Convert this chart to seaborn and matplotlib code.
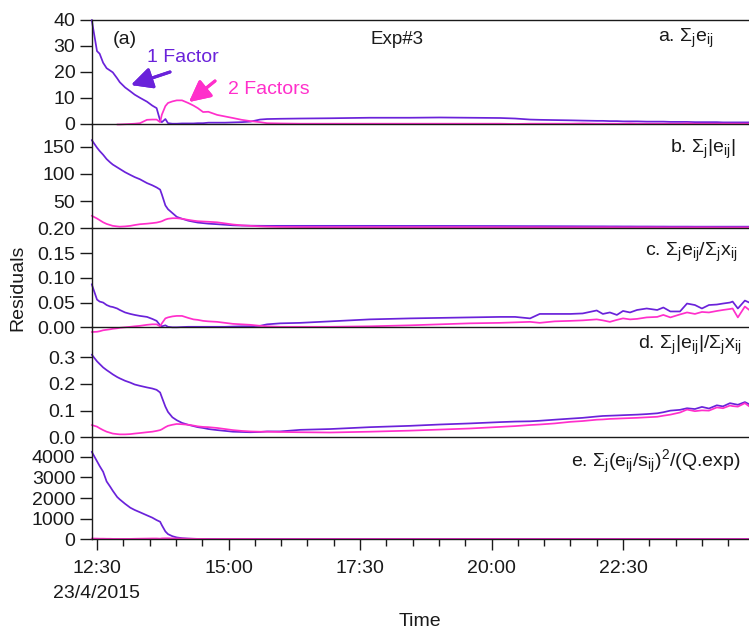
import numpy as np
import pandas as pd
import matplotlib
matplotlib.use("Agg")
import matplotlib.pyplot as plt
import matplotlib.dates as mdates
from matplotlib.ticker import FixedLocator, FormatStrFormatter
import seaborn as sns

# ---------------------------------------------------------------- data
start = pd.Timestamp("2015-04-23 12:30")

# sample times, minutes after 12:30
minutes = [-6, 0, 3, 7, 11, 15, 18, 23, 26, 32,
           38, 43, 49, 57, 63, 68, 72, 74, 78, 81,
           86, 91, 97, 104, 110, 115, 121, 127, 137, 146,
           155, 165, 175, 186, 194, 209, 232, 266, 311, 357,
           391, 425, 460, 477, 494, 505, 522, 540, 554, 570,
           577, 585, 593, 600, 608, 616, 627, 639, 646, 654,
           665, 673, 682, 690, 698, 707, 714, 722, 725, 731,
           739, 744]

series_names = ["1 Factor", "2 Factors"]

# a. sum_j e_ij
sum_e_1f = [40, 28, 27, 23.5, 21.4, 20.5, 19.8, 17.5, 16, 14,
            12.5, 11.2, 10, 8.5, 7, 6, 1.2, 0.6, 1.8, 0.2,
            0, 0, 0.1, 0.1, 0.1, 0.2, 0.2, 0.4, 0.4, 0.4,
            0.5, 0.6, 0.8, 1.6, 1.8, 1.9, 2.0, 2.1, 2.3, 2.3,
            2.4, 2.3, 2.2, 2.0, 1.6, 1.5, 1.4, 1.3, 1.2, 1.1,
            1.1, 1.0, 1.0, 0.9, 0.9, 0.9, 0.8, 0.8, 0.8, 0.7,
            0.7, 0.7, 0.6, 0.6, 0.6, 0.6, 0.5, 0.5, 0.5, 0.5,
            0.5, 0.5]
sum_e_2f = [np.nan, np.nan, np.nan, np.nan, np.nan, np.nan, np.nan, -0.3, -0.3, -0.2,
            -0.1, 0, 0.2, 1.5, 1.6, 1.6, 0.6, 3.5, 6.8, 8.0,
            8.6, 9.0, 9.0, 8.0, 7.0, 6.0, 4.5, 4.6, 3.4, 2.8,
            2.2, 1.5, 1.0, 0.6, 0.2, 0.1, 0.0, 0.0, 0.0, 0.0,
            0.0, 0.0, 0.0, -0.1, 0.0, 0.0, 0.0, 0.0, 0.1, 0.0,
            0.0, 0.0, 0.0, 0.0, 0.1, 0.0, 0.0, 0.0, 0.0, 0.0,
            0.0, 0.1, 0.0, 0.0, 0.0, 0.0, 0.0, 0.0, 0.0, 0.0,
            0.0, 0.0]

# b. sum_j |e_ij|
sum_abs_1f = [162, 148, 142, 135, 127, 121, 117, 112, 109, 103,
              98, 94, 90, 83, 79, 75, 71, 62, 42, 35,
              28, 21, 17.5, 14, 12, 10.5, 9.5, 8.5, 7.5, 6.5,
              5.5, 5.0, 4.8, 4.6, 4.5, 4.5, 4.5, 4.5, 4.5, 4.4,
              4.4, 4.3, 4.2, 4.1, 4.0, 4.0, 3.9, 3.8, 3.7, 3.6,
              3.6, 3.5, 3.5, 3.4, 3.4, 3.3, 3.3, 3.2, 3.2, 3.1,
              3.1, 3.1, 3.0, 3.0, 3.0, 3.0, 3.0, 3.0, 3.0, 3.0,
              3.0, 3.0]
sum_abs_2f = [23, 18, 15, 11, 8, 6, 4.5, 3.5, 3, 3.5,
              4.5, 6, 7.5, 8.5, 9.5, 10.5, 12, 13, 16, 17.5,
              18.5, 18.5, 17.5, 15.5, 14, 13, 12.5, 12, 11, 9,
              7, 5.5, 4.5, 3.5, 3, 2.5, 2.2, 2.0, 2.0, 2.0,
              2.0, 2.0, 1.9, 1.9, 1.9, 1.9, 1.8, 1.8, 1.8, 1.8,
              1.8, 1.8, 1.7, 1.7, 1.7, 1.7, 1.7, 1.7, 1.6, 1.6,
              1.6, 1.6, 1.6, 1.6, 1.6, 1.5, 1.5, 1.5, 1.5, 1.5,
              1.5, 1.5]

# c. sum_j e_ij / sum_j x_ij
rel_e_1f = [0.087, 0.056, 0.052, 0.050, 0.045, 0.042, 0.041, 0.038, 0.035, 0.030,
            0.027, 0.025, 0.023, 0.021, 0.017, 0.013, 0.004, 0.002, 0.004, 0.001,
            0.000, 0.000, 0.0005, 0.001, 0.001, 0.001, 0.001, 0.001, 0.001, 0.001,
            0.0015, 0.002, 0.002, 0.003, 0.006, 0.008, 0.009, 0.012, 0.016, 0.018,
            0.019, 0.020, 0.021, 0.021, 0.018, 0.027, 0.027, 0.027, 0.028, 0.034,
            0.027, 0.030, 0.025, 0.033, 0.030, 0.035, 0.038, 0.035, 0.040, 0.032,
            0.032, 0.048, 0.045, 0.038, 0.045, 0.046, 0.048, 0.050, 0.052, 0.038,
            0.054, 0.050]
rel_e_2f = [-0.0095, -0.009, -0.008, -0.006, -0.005, -0.004, -0.003, -0.002, -0.001, 0.000,
            0.001, 0.002, 0.003, 0.005, 0.006, 0.006, 0.002, 0.008, 0.018, 0.020,
            0.022, 0.023, 0.023, 0.019, 0.016, 0.015, 0.013, 0.012, 0.011, 0.009,
            0.007, 0.006, 0.005, 0.003, 0.002, 0.001, 0.001, 0.001, 0.002, 0.004,
            0.006, 0.008, 0.009, 0.010, 0.011, 0.009, 0.012, 0.013, 0.014, 0.016,
            0.014, 0.011, 0.015, 0.018, 0.016, 0.017, 0.020, 0.021, 0.025, 0.020,
            0.026, 0.030, 0.027, 0.031, 0.030, 0.033, 0.035, 0.037, 0.038, 0.020,
            0.042, 0.035]

# d. sum_j |e_ij| / sum_j x_ij
rel_abs_1f = [0.310, 0.285, 0.275, 0.262, 0.252, 0.243, 0.236, 0.226, 0.221, 0.212,
              0.205, 0.198, 0.193, 0.187, 0.183, 0.178, 0.168, 0.150, 0.115, 0.095,
              0.075, 0.064, 0.054, 0.047, 0.042, 0.038, 0.035, 0.031, 0.027, 0.024,
              0.021, 0.020, 0.019, 0.020, 0.022, 0.022, 0.028, 0.031, 0.038, 0.043,
              0.048, 0.052, 0.057, 0.059, 0.060, 0.062, 0.066, 0.070, 0.073, 0.078,
              0.080, 0.081, 0.082, 0.083, 0.084, 0.085, 0.087, 0.090, 0.094, 0.100,
              0.103, 0.109, 0.106, 0.114, 0.108, 0.120, 0.116, 0.128, 0.126, 0.122,
              0.132, 0.124]
rel_abs_2f = [0.046, 0.040, 0.034, 0.027, 0.021, 0.017, 0.014, 0.012, 0.011, 0.011,
              0.012, 0.014, 0.016, 0.019, 0.021, 0.024, 0.027, 0.030, 0.038, 0.043,
              0.047, 0.050, 0.049, 0.047, 0.044, 0.041, 0.039, 0.038, 0.035, 0.031,
              0.027, 0.024, 0.022, 0.021, 0.021, 0.020, 0.019, 0.018, 0.021, 0.025,
              0.029, 0.033, 0.039, 0.042, 0.046, 0.048, 0.052, 0.058, 0.061, 0.066,
              0.067, 0.069, 0.070, 0.071, 0.072, 0.073, 0.075, 0.077, 0.081, 0.085,
              0.093, 0.104, 0.098, 0.101, 0.100, 0.112, 0.109, 0.119, 0.117, 0.115,
              0.128, 0.116]

# e. sum_j (e_ij/s_ij)^2 / (Q.exp)
q_scaled_1f = [4240, 3780, 3550, 3270, 2800, 2550, 2350, 2050, 1930, 1720,
               1530, 1420, 1310, 1160, 1050, 930, 850, 680, 380, 250,
               150, 90, 55, 35, 25, 20, 18, 15, 12, 10,
               10, 10, 10, 10, 10, 10, 10, 10, 10, 10,
               10, 10, 10, 10, 10, 10, 10, 10, 10, 10,
               10, 10, 10, 10, 10, 10, 10, 10, 10, 10,
               10, 10, 10, 10, 10, 10, 10, 10, 10, 10,
               10, 10]
q_scaled_2f = [40, 35, 30, 30, 25, 25, 20, 20, 20, 20,
               20, 25, 30, 35, 40, 40, 30, 45, 50, 50,
               45, 40, 35, 30, 25, 20, 20, 15, 15, 15,
               15, 15, 15, 12, 12, 12, 12, 12, 12, 12,
               12, 12, 12, 12, 12, 12, 12, 12, 12, 12,
               12, 12, 12, 12, 12, 12, 12, 12, 12, 12,
               12, 12, 12, 12, 12, 12, 12, 12, 12, 12,
               12, 12]

# x-axis ticks
major_tick_minutes = [0, 150, 300, 450, 600]
major_tick_labels = ["12:30\n23/4/2015", "15:00", "17:30", "20:00", "22:30"]
minor_tick_minutes = [30, 60, 90, 120, 180, 210, 240, 270, 330, 360, 390, 420,
                      480, 510, 540, 570, 630, 660, 690, 720]

# ---------------------------------------------------------------- style
purple = "#6A22DA"
magenta = "#FF2FCB"
palette = {"1 Factor": purple, "2 Factors": magenta}
ink = "#1a1a1a"

sns.set_theme(style="ticks")
plt.rcParams["font.family"] = ["Liberation Sans", "DejaVu Sans"]
plt.rcParams["mathtext.fontset"] = "custom"
plt.rcParams["mathtext.rm"] = "Liberation Sans"
plt.rcParams["mathtext.it"] = "Liberation Sans"
plt.rcParams["mathtext.bf"] = "Liberation Sans:bold"
plt.rcParams["axes.edgecolor"] = ink
plt.rcParams["xtick.color"] = ink
plt.rcParams["ytick.color"] = ink
plt.rcParams["text.color"] = ink

W, H = 749, 630
fig = plt.figure(figsize=(W / 100, H / 100), dpi=100)

times = start + pd.to_timedelta(minutes, unit="min")

# panel layout in pixels (top, bottom) and axis settings
panels = [
    dict(one=sum_e_1f, two=sum_e_2f, span=(20, 123.7), ylim=(0, 40),
         yticks=[0, 10, 20, 30, 40], fmt="%d"),
    dict(one=sum_abs_1f, two=sum_abs_2f, span=(123.7, 228.3), ylim=(0, 192),
         yticks=[50, 100, 150], fmt="%d"),
    dict(one=rel_e_1f, two=rel_e_2f, span=(228.3, 327.3), ylim=(0, 0.2),
         yticks=[0.0, 0.05, 0.10, 0.15, 0.20], fmt="%.2f"),
    dict(one=rel_abs_1f, two=rel_abs_2f, span=(327.3, 437.3), ylim=(0, 0.4125),
         yticks=[0.0, 0.1, 0.2, 0.3], fmt="%.1f"),
    dict(one=q_scaled_1f, two=q_scaled_2f, span=(437.3, 539.3), ylim=(0, 4940),
         yticks=[0, 1000, 2000, 3000, 4000], fmt="%d"),
]

left_px = 92
x0 = mdates.date2num(start + pd.Timedelta(minutes=-5.7))
x1 = mdates.date2num(start + pd.Timedelta(minutes=743.7))

axes = []
for i, p in enumerate(panels):
    top, bottom = p["span"]
    ax = fig.add_axes([left_px / W, 1 - bottom / H, (W - left_px) / W, (bottom - top) / H])
    df = pd.DataFrame({
        "time": list(times) + list(times),
        "value": list(p["one"]) + list(p["two"]),
        "series": [series_names[0]] * len(times) + [series_names[1]] * len(times),
    })
    sns.lineplot(data=df, x="time", y="value", hue="series", hue_order=series_names,
                 palette=palette, estimator=None, sort=False, legend=False,
                 linewidth=1.25, ax=ax)
    for line in ax.lines:
        line.set_clip_on(False)
    ax.set_xlim(x0, x1)
    ax.set_ylim(*p["ylim"])
    ax.yaxis.set_major_locator(FixedLocator(p["yticks"]))
    ax.yaxis.set_major_formatter(FormatStrFormatter(p["fmt"]))
    ax.set_xlabel("")
    ax.set_ylabel("")
    ax.set_facecolor("none")
    ax.spines["right"].set_visible(False)
    ax.spines["top"].set_visible(i == 0)
    for side in ("left", "bottom", "top"):
        ax.spines[side].set_linewidth(1.0)
    ax.tick_params(axis="y", direction="out", length=9, width=1.0, pad=3, labelsize=14)
    major_pos = [mdates.date2num(start + pd.Timedelta(minutes=m)) for m in major_tick_minutes]
    minor_pos = [mdates.date2num(start + pd.Timedelta(minutes=m)) for m in minor_tick_minutes]
    ax.xaxis.set_major_locator(FixedLocator(major_pos))
    ax.xaxis.set_minor_locator(FixedLocator(minor_pos))
    if i < len(panels) - 1:
        ax.tick_params(axis="x", which="both", bottom=False, labelbottom=False)
    else:
        ax.set_xticklabels(major_tick_labels)
        ax.tick_params(axis="x", which="major", direction="out", length=8, width=1.0,
                       pad=7, labelsize=14)
        ax.tick_params(axis="x", which="minor", direction="out", length=5, width=1.0)
        for lbl in ax.get_xticklabels():
            lbl.set_linespacing(1.6)
    axes.append(ax)


def fx(x):
    return x / W


def fy(y):
    return 1 - y / H


# panel titles
fs = 14
fig.text(fx(714), fy(38), r"a. $\Sigma_{j}$e$_{ij}$", ha="right", va="center", fontsize=fs)
fig.text(fx(735), fy(149), r"b. $\Sigma_{j}$|e$_{ij}$|", ha="right", va="center", fontsize=fs)
fig.text(fx(737), fy(252), r"c. $\Sigma_{j}$e$_{ij}$/$\Sigma_{j}$x$_{ij}$", ha="right",
         va="center", fontsize=fs)
fig.text(fx(741), fy(345), r"d. $\Sigma_{j}$|e$_{ij}$|/$\Sigma_{j}$x$_{ij}$", ha="right",
         va="center", fontsize=fs)
fig.text(fx(740), fy(462), r"e. $\Sigma_{j}$(e$_{ij}$/s$_{ij}$)$^{2}$/(Q.exp)", ha="right",
         va="center", fontsize=fs)

fig.text(fx(125), fy(40), "(a)", ha="center", va="center", fontsize=fs)
fig.text(fx(397), fy(40), "Exp#3", ha="center", va="center", fontsize=13.5)

# series annotations with arrows
arrow_kw = dict(arrowstyle="-|>,head_length=0.8,head_width=0.4", lw=2.2,
                shrinkA=0, shrinkB=0, mutation_scale=16)
fig.text(fx(147), fy(57), "1 Factor", ha="left", va="center", fontsize=fs, color=purple)
fig.add_artist(plt.annotate("", xy=(131, H - 85), xytext=(170, H - 72),
                            xycoords="figure pixels", textcoords="figure pixels",
                            arrowprops=dict(color=purple, **arrow_kw)))
fig.text(fx(228), fy(89), "2 Factors", ha="left", va="center", fontsize=fs, color=magenta)
fig.add_artist(plt.annotate("", xy=(189, H - 102), xytext=(215, H - 81),
                            xycoords="figure pixels", textcoords="figure pixels",
                            arrowprops=dict(color=magenta, **arrow_kw)))

# axis titles
fig.text(fx(18), fy(288), "Residuals", rotation=90, ha="center", va="center", fontsize=fs)
fig.text(fx(420), fy(622), "Time", ha="center", va="center", fontsize=fs)

fig.savefig("out.png", dpi=100)
